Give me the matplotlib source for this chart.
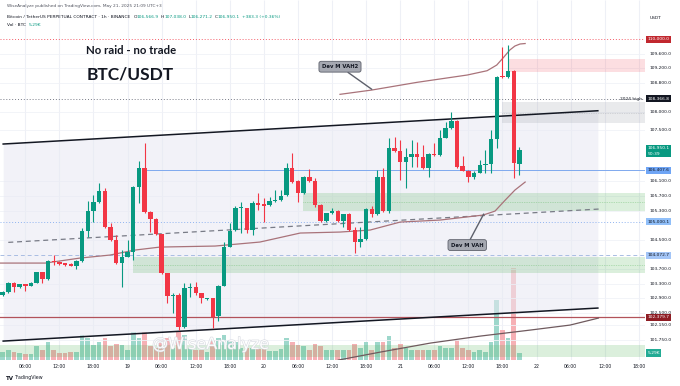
import matplotlib
matplotlib.use("Agg")
import matplotlib.pyplot as plt
import matplotlib.patheffects as pe
import numpy as np

# ---------------- data ----------------
opens = [102983, 103057, 103321, 103203, 103285, 103238, 103321, 103606, 103414, 103916,
         103900, 103853, 103842, 103779, 103925, 104748, 105288, 105527, 105837, 104841,
         104492, 103853, 104034, 104155, 105955, 106460, 105269, 105060, 104649, 103579,
         102956, 102983, 102113, 103167, 103195, 103030, 102865, 102893, 102407, 103238,
         104309, 104767, 105362, 105362, 104767, 105499, 105472, 105453, 105563, 105590,
         105727, 106460, 106111, 105774, 106229, 106111, 105453, 105022, 105225, 105288,
         105022, 105198, 104767, 104429, 104512, 105335, 105198, 106213, 105288, 107025,
         106935, 106625, 106778, 106852, 106762, 106460, 106852, 106825, 107299, 107557,
         107758, 106523, 106394, 106213, 106339, 106550, 106578, 107256, 108993, 108957,
         109130, 106566.9]
closes = [103074, 103321, 103203, 103285, 103238, 103312, 103606, 103414, 103916, 103881,
          103834, 103806, 103779, 103925, 104748, 105288, 105527, 105837, 104841, 104492,
          103853, 104034, 104155, 105955, 106460, 105269, 105060, 104649, 103579, 102956,
          102983, 102113, 103167, 103211, 103030, 102893, 102893, 102388, 103230, 104309,
          104753, 105362, 105380, 104767, 105499, 105453, 105425, 105563, 105590, 105700,
          106460, 106092, 105774, 106229, 106111, 105453, 105022, 105225, 105288, 105022,
          105198, 104767, 104429, 104512, 105335, 105198, 106213, 105288, 107025, 106935,
          106625, 106778, 106852, 106762, 106460, 106852, 106825, 107299, 107557, 107758,
          106504, 106394, 106213, 106339, 106550, 106578, 107256, 108973, 108957, 109130,
          106614, 106950.1]
highs = [103100, 103348, 103340, 103300, 103300, 103330, 103623, 103620, 103944, 104081,
         103910, 103860, 103850, 103935, 104813, 105563, 105727, 106048, 105919, 104951,
         104630, 104218, 104492, 105980, 106668, 107146, 105290, 105090, 104670, 103600,
         103030, 103030, 103304, 103304, 103348, 103040, 102900, 102910, 103250, 104437,
         104951, 105425, 105543, 105380, 105563, 105790, 105645, 105681, 105864, 105864,
         106614, 106871, 106130, 106260, 106432, 106194, 105470, 105240, 105362, 105316,
         105210, 105230, 104857, 104857, 105360, 105425, 106413, 106460, 107283, 107327,
         107236, 107009, 107236, 107190, 107099, 106870, 107146, 107511, 107739, 108013,
         107785, 106797, 106410, 106386, 106688, 106962, 107511, 109000, 109797, 109843,
         109160, 107038.0]
lows = [102950, 103030, 103074, 103190, 103101, 103220, 103305, 103321, 103395, 103806,
        103820, 103790, 103770, 103688, 103900, 104583, 104995, 105500, 104820, 104470,
        103840, 103211, 104020, 103944, 105499, 105225, 104720, 104630, 103560, 102756,
        102481, 102023, 102090, 102937, 102983, 102756, 102850, 102078, 102270, 103220,
        104290, 104750, 104685, 104685, 104630, 105316, 104995, 105440, 105550, 105570,
        105700, 106070, 105543, 105760, 106090, 105400, 104995, 105000, 105210, 105000,
        104857, 104740, 104127, 104309, 104490, 105132, 105180, 105260, 105225, 106910,
        106139, 105911, 106504, 106504, 106440, 106229, 106810, 106810, 107280, 107540,
        106470, 106380, 106092, 106166, 106320, 106323, 106323, 107009, 108930, 108940,
        106185, 106271.2]
volumes_k = [6, 7.5, 6, 5.3, 4.5, 4.5, 10.6, 7.6, 13.6, 7.6,
             5.3, 5.3, 6, 6, 19, 16.6, 11.3, 13.6, 16.6, 10.6,
             12, 11.3, 7.6, 21, 16.6, 21, 10.6, 9, 15, 16.6,
             9, 21, 19, 9, 7.6, 7.6, 6, 15, 16.6, 19,
             15, 13.6, 9, 9, 9, 8, 8, 7, 7, 8,
             16.6, 13.6, 11.3, 10.6, 7.6, 12, 10.6, 7.6, 7.6, 7.6,
             7.6, 7.6, 12, 9, 13.6, 7.6, 13.6, 13.6, 18, 9,
             12, 9, 7.6, 7.6, 7.6, 7.6, 7.6, 10.6, 9, 9,
             15, 9, 7.6, 6, 7.6, 6, 13.6, 45, 22.7, 16.6,
             69.5, 5.29]
# hours relative to 19 May 00:00 (first candle 18 May 02:00, 1h candles)
first_hour = -22

# Indicator lines (hour, price)
vah_hours = [-22.46, -14.5, -8.4, -3.1, 1.3, 5.7, 15.4, 23.3, 30.4, 37.4, 42.7, 48.0, 55.0, 62.6, 64.7, 66.5, 68.2, 70.0]
vah_prices = [103861, 103861, 103998, 104081, 104218, 104300, 104328, 104438, 104685, 104712,
              104767, 104986, 105041, 105178, 105288, 105590, 105864, 106084]
vah2_hours = [37.4, 43.0, 51.0, 59.8, 63.3, 65.0, 66.3, 67.3, 68.2, 69.1, 70.0]
vah2_prices = [108490, 108608, 108820, 109020, 109138, 109294, 109522, 109706, 109816, 109871, 109884]
val_hours = [37.1, 44.5, 53.3, 62.1, 70.9, 77.9, 82.9]
val_prices = [101200, 101419, 101666, 101858, 102023, 102160, 102352]

chan_hours = [-21.9, 82.8]
chan_upper = [107127, 108040]
chan_lower = [101721, 102627]
poc_hours = [-21.0, 83.2]
poc_prices = [104429, 105345]

level_110k = 110000.0
level_2024_high = 108366.8
level_blue = 106407.6
level_105k = 105000.1
level_104k = 104072.7
level_red = 102379.7

zone_red = (67.0, 109102, 109451)
zone_grey = (65.9, 107695, 108287)
zone_green_hi = (30.9, 105288, 105774)
zone_green_lo = (1.0, 103600, 104040)
zone_green_bottom = (-22.46, 101282, 101611)

price_ticks = [109600, 109200, 108800, 108000, 107500, 106100, 105700, 105300,
               104500, 103700, 103300, 102900, 102500, 102150, 101750]
time_ticks = [-18, -12, -6, 0, 6, 12, 18, 24, 30, 36, 42, 48, 54, 60, 66, 72, 78, 84, 90]
time_labels = ["06:00", "12:00", "18:00", "19", "06:00", "12:00", "18:00", "20", "06:00",
               "12:00", "18:00", "21", "06:00", "12:00", "18:00", "22", "06:00", "12:00", "18:00"]

# ---------------- figure ----------------
GREEN = "#089981"
RED = "#f23645"
TXT = "#131722"

fig = plt.figure(figsize=(6.8, 3.86), dpi=100)
fig.patch.set_facecolor("white")
rect = [0, 26 / 386, 645 / 680, 360 / 386]
vax = fig.add_axes(rect, zorder=0)
ax = fig.add_axes(rect, zorder=1, sharex=vax)
ax.patch.set_alpha(0)
XMIN, XMAX = -22.46, 91.1
ax.set_xlim(XMIN, XMAX)
ax.set_ylim(101202, 111078)
vax.set_ylim(0, 272)
for a in (ax, vax):
    for s in a.spines.values():
        s.set_visible(False)
vax.set_yticks([])
ax.set_yticks([])
vax.tick_params(labelbottom=False, length=0)

hours = np.arange(first_hour, first_hour + len(opens))
o = np.array(opens); c = np.array(closes); h = np.array(highs); l = np.array(lows)
up = c >= o
cols = np.where(up, GREEN, RED)

# grid
vax.vlines(time_ticks, 0, 1, transform=vax.get_xaxis_transform(), color="#eef0f6", lw=0.8, zorder=0)
for p in price_ticks:
    ax.axhline(p, color="#f0f2f7", lw=0.6, zorder=0.2)

# volume
vcols = np.where(up, "#9dd7cb", "#f6b0b5")
vax.bar(hours, volumes_k, width=0.82, color=vcols, linewidth=0, zorder=1)

# channel
ax.fill_between(chan_hours, chan_lower, chan_upper, color="#e8e9f3", alpha=0.55, lw=0, zorder=0.3)
ax.plot(chan_hours, chan_upper, color="#131722", lw=1.1, zorder=4)
ax.plot(chan_hours, chan_lower, color="#131722", lw=1.1, zorder=4)

# zones
def zone(z, color, alpha, mid=False):
    x0, p0, p1 = z
    ax.fill_between([x0, XMAX], [p0, p0], [p1, p1], color=color, alpha=alpha, lw=0, zorder=1)
    if mid:
        ax.plot([x0, XMAX], [(p0 + p1) / 2] * 2, color=color, lw=0.5, ls=(0, (1, 1.5)), alpha=0.6, zorder=1.1)

zone(zone_red, "#f23645", 0.16)
zone(zone_grey, "#9598a1", 0.2, mid=True)
zone(zone_green_hi, "#4caf50", 0.2, mid=True)
zone(zone_green_lo, "#4caf50", 0.2, mid=True)
zone(zone_green_bottom, "#4caf50", 0.2)

# horizontal levels
ax.axhline(level_110k, color="#f23645", lw=0.7, ls=(0, (1, 2)), alpha=0.8, zorder=2)
ax.axhline(level_2024_high, color="#787b86", lw=0.7, ls=(0, (1, 2)), zorder=2)
ax.plot([3.4, XMAX], [level_blue] * 2, color="#7fa9ee", lw=0.7, zorder=2)
ax.axhline(level_105k, color="#90b4f0", lw=0.7, ls=(0, (1, 2)), zorder=2)
ax.axhline(level_104k, color="#a9bde3", lw=0.7, ls=(0, (4, 3)), zorder=2)
ax.axhline(level_red, color="#b2525a", lw=0.9, zorder=2)

# dev lines
ax.plot(poc_hours, poc_prices, color="#787b86", lw=0.9, ls=(0, (4, 3)), zorder=3)
ax.plot(vah_hours, vah_prices, color="#a9737a", lw=0.9, zorder=3)
ax.plot(vah2_hours, vah2_prices, color="#a9737a", lw=0.9, zorder=3)
ax.plot(val_hours, val_prices, color="#6f5a5e", lw=0.9, zorder=3)

# candles
ax.vlines(hours, l, h, colors=cols, lw=0.8, zorder=5)
body_bottom = np.minimum(o, c)
body_h = np.maximum(np.abs(c - o), 30)
ax.bar(hours, body_h, bottom=body_bottom, width=0.78, color=cols, linewidth=0, zorder=6)

# callouts
box = dict(boxstyle="round,pad=0.55,rounding_size=0.4", fc="#a5a8b1", ec="#5d606b", lw=0.6)
ax.annotate("Dev M VAH2", xy=(43.0, 108628), xytext=(37.4, 109248), ha="center", va="center",
            fontsize=3.8, fontweight="bold", color=TXT, bbox=box, zorder=12,
            arrowprops=dict(arrowstyle="-", color="#5d606b", lw=1.0, shrinkA=0, shrinkB=0))
ax.annotate("Dev M VAH", xy=(62.7, 105206), xytext=(59.8, 104355), ha="center", va="center",
            fontsize=3.8, fontweight="bold", color=TXT, bbox=box, zorder=12,
            arrowprops=dict(arrowstyle="-", color="#5d606b", lw=1.0, shrinkA=0, shrinkB=0))

# titles
fig.text(131 / 680, 1 - 50.5 / 386, "No raid - no trade", fontsize=8.2, fontweight="bold",
         family="Lato", color=TXT, ha="center", va="center")
fig.text(130 / 680, 1 - 74 / 386, "BTC/USDT", fontsize=12.5, fontweight="bold",
         family="Lato", color=TXT, ha="center", va="center")

# watermark
ax.text(0.327, 0.043, "@WiseAnalyze", transform=ax.transAxes, fontsize=11.5, color="white",
        alpha=0.9, ha="center", va="center", zorder=15,
        path_effects=[pe.withStroke(linewidth=0.8, foreground="#d3d6de")])

# header
fig.text(7 / 680, 1 - 6 / 386, "WiseAnalyze published on TradingView.com, May 21, 2025 21:09 UTC+3",
         fontsize=3.1, color="#50535e", va="center")
prev = fig.text(7 / 680, 1 - 19 / 386, "Bitcoin / TetherUS PERPETUAL CONTRACT · 1h · BINANCE",
                fontsize=3.2, color=TXT, va="bottom")
parts = [("O", TXT, 2.2), ("106,566.9", GREEN, 0), ("H", TXT, 1.5), ("107,038.0", GREEN, 0),
         ("L", TXT, 1.5), ("106,271.2", GREEN, 0), ("C", TXT, 1.5), ("106,950.1", GREEN, 0),
         ("+383.3 (+0.36%)", GREEN, 1.5)]
for s, col, gap in parts:
    prev = ax.annotate(s, xy=(1, 0), xycoords=prev, xytext=(gap, 0), textcoords="offset points",
                       fontsize=3.2, color=col, va="bottom", ha="left", annotation_clip=False)
prev = fig.text(7 / 680, 1 - 26.5 / 386, "Vol · BTC", fontsize=3.2, color=TXT, va="bottom")
ax.annotate("5.29K", xy=(1, 0), xycoords=prev, xytext=(2, 0), textcoords="offset points",
            fontsize=3.2, color=GREEN, va="bottom", ha="left", annotation_clip=False)

# right price scale
fig.text(650 / 680, 1 - 18 / 386, "USDT", fontsize=3.2, color=TXT, va="center")
for p in price_ticks:
    ax.annotate(f"{p:,.1f}", xy=(1, p), xycoords=("axes fraction", "data"), xytext=(3, 0),
                textcoords="offset points", fontsize=3.2, color=TXT, va="center", ha="left",
                annotation_clip=False)

def price_label(a, val, text, bg, fg="white"):
    a.annotate(text, xy=(1, val), xycoords=("axes fraction", "data"), xytext=(1.6, 0),
               textcoords="offset points", fontsize=3.2, color=fg, va="center", ha="left",
               bbox=dict(boxstyle="square,pad=0.35", fc=bg, ec="none"), annotation_clip=False, zorder=20)

price_label(ax, level_110k, f"{level_110k:,.1f}", "#c1282f")
price_label(ax, level_2024_high, f"{level_2024_high:,.1f}", "#131722")
ax.annotate("2024 high", xy=(1, level_2024_high), xycoords=("axes fraction", "data"), xytext=(-2, 0),
            textcoords="offset points", fontsize=3.2, color=TXT, va="center", ha="right")
ax.annotate(f"{closes[-1]:,.1f}\n50:39", xy=(1, closes[-1]), xycoords=("axes fraction", "data"),
            xytext=(1.6, 3), textcoords="offset points", fontsize=3.2, color="white", va="top",
            ha="left", linespacing=1.5, bbox=dict(boxstyle="square,pad=0.35", fc=GREEN, ec="none"),
            annotation_clip=False, zorder=20)
price_label(ax, level_blue, f"{level_blue:,.1f}", "#6fa5f5", fg=TXT)
price_label(ax, level_105k, f"{level_105k:,.1f}", "#90bff9", fg=TXT)
price_label(ax, level_104k, f"{level_104k:,.1f}", "#a3c5f7", fg=TXT)
price_label(ax, level_red, f"{level_red:,.1f}", "#8e1d24")
price_label(vax, volumes_k[-1], f"{volumes_k[-1]:.2f}K", "#22ab94")

# time axis
ax.set_xticks(time_ticks)
ax.set_xticklabels(time_labels)
ax.tick_params(axis="x", length=0, labelsize=3.3, colors=TXT, pad=3)

# TradingView logo
fig.text(6 / 680, 1 - 378 / 386, "TV", fontsize=4, fontweight="bold", color=TXT, va="center")
fig.text(15 / 680, 1 - 378 / 386, "TradingView", fontsize=3.4, color=TXT, va="center")

fig.savefig("out.png", dpi=100, facecolor="white")
